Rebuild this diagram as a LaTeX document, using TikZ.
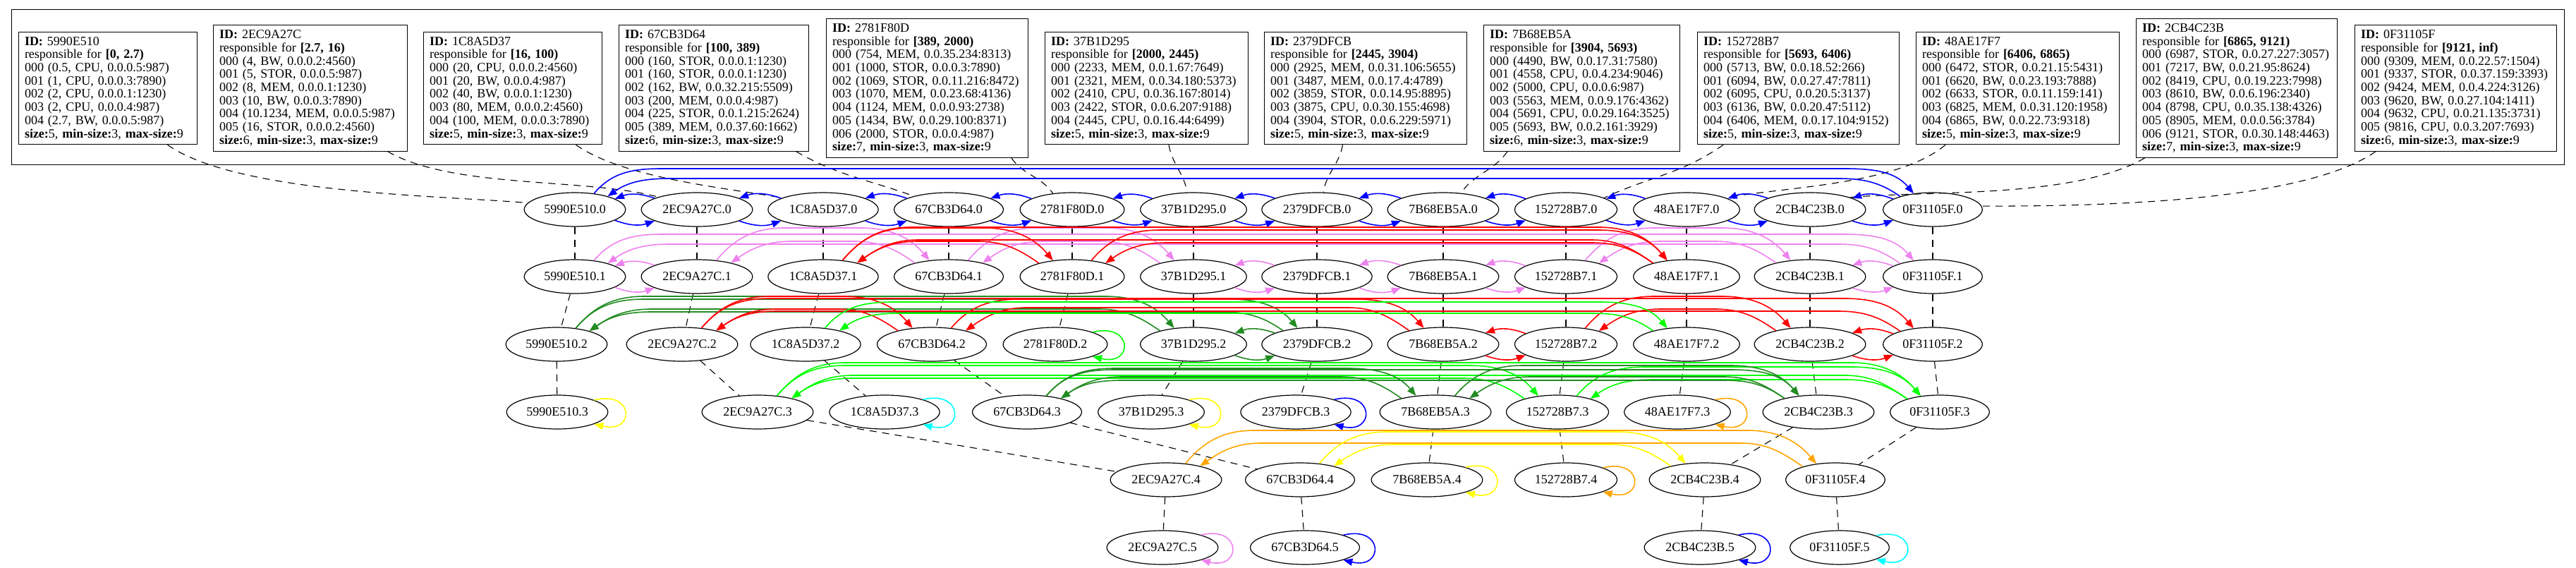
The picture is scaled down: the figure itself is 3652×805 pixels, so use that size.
\documentclass[tikz,border=0pt]{standalone}
\usepackage{fontspec}
\setmainfont{Liberation Serif}
\usetikzlibrary{shapes.geometric,arrows.meta,calc}

\definecolor{gvblue}{RGB}{0,0,255}
\definecolor{gvviolet}{RGB}{238,130,238}
\definecolor{gvred}{RGB}{255,0,0}
\definecolor{gvlime}{RGB}{0,255,0}
\definecolor{gvforest}{RGB}{34,139,34}
\definecolor{gvyellow}{RGB}{255,255,0}
\definecolor{gvorange}{RGB}{255,165,0}
\definecolor{gvcyan}{RGB}{0,255,255}

\tikzset{
  peer/.style={ellipse, draw, line width=1.2pt, minimum height=48pt, inner xsep=7pt, inner ysep=2pt, font=\fontsize{18}{20}\selectfont},
  entry/.style={rectangle, draw, line width=1pt, align=left, inner xsep=9pt, inner ysep=7pt, font=\fontsize{18}{18.7}\selectfont},
  link/.style={dash pattern=on 10pt off 8pt, line width=1.1pt},
  edge/.style={line width=1.6pt},
}

% two neighbours in one row
\newcommand{\nbrpair}[3]{%
  \draw[edge,#1,->] (#2.-15) to[bend right=20] (#3.-165);
  \draw[edge,#1,->] (#3.165) to[bend right=20] (#2.15);}
% two peers further apart in one row
\newcommand{\ringpair}[5]{%
  \draw[edge,#1,->] (#2.40) to[out=50,in=180] ($(#2)+(125,-#4)$) -- ($(#3)+(-125,-#4)$) to[out=0,in=130] (#3.140);
  \draw[edge,#1,<-] (#2.22) to[out=35,in=180] ($(#2)+(135,-#5)$) -- ($(#3)+(-135,-#5)$) to[out=0,in=145] (#3.158);}
% peer alone in its list
\newcommand{\selfloop}[2]{%
  \draw[edge,#1,->] (#2.18) .. controls +(58,-14) and +(58,14) .. (#2.-18);}

\begin{document}
\begin{tikzpicture}[x=1pt, y=-1pt, >={Triangle[length=13pt,width=10pt]}]
\useasboundingbox (0,0) rectangle (3652,805);

% frame round the tables
\draw[line width=1pt] (16,14) rectangle (3635,234);

% tables
\node[entry, text width=235pt] (t5990E510) at (152.5,125) {\textbf{ID:} 5990E510\\ responsible for \textbf{[0, 2.7)}\\ 000 (0.5, CPU, 0.0.0.5:987)\\ 001 (1, CPU, 0.0.0.3:7890)\\ 002 (2, CPU, 0.0.0.1:1230)\\ 003 (2, CPU, 0.0.0.4:987)\\ 004 (2.7, BW, 0.0.0.5:987)\\ \textbf{size:}5, \textbf{min-size:}3, \textbf{max-size:}9};
\node[entry, text width=257pt] (t2EC9A27C) at (439.5,125) {\textbf{ID:} 2EC9A27C\\ responsible for \textbf{[2.7, 16)}\\ 000 (4, BW, 0.0.0.2:4560)\\ 001 (5, STOR, 0.0.0.5:987)\\ 002 (8, MEM, 0.0.0.1:1230)\\ 003 (10, BW, 0.0.0.3:7890)\\ 004 (10.1234, MEM, 0.0.0.5:987)\\ 005 (16, STOR, 0.0.0.2:4560)\\ \textbf{size:}6, \textbf{min-size:}3, \textbf{max-size:}9};
\node[entry, text width=235pt] (t1C8A5D37) at (726.5,125) {\textbf{ID:} 1C8A5D37\\ responsible for \textbf{[16, 100)}\\ 000 (20, CPU, 0.0.0.2:4560)\\ 001 (20, BW, 0.0.0.4:987)\\ 002 (40, BW, 0.0.0.1:1230)\\ 003 (80, MEM, 0.0.0.2:4560)\\ 004 (100, MEM, 0.0.0.3:7890)\\ \textbf{size:}5, \textbf{min-size:}3, \textbf{max-size:}9};
\node[entry, text width=251pt] (t67CB3D64) at (1011.5,125) {\textbf{ID:} 67CB3D64\\ responsible for \textbf{[100, 389)}\\ 000 (160, STOR, 0.0.0.1:1230)\\ 001 (160, STOR, 0.0.0.1:1230)\\ 002 (162, BW, 0.0.32.215:5509)\\ 003 (200, MEM, 0.0.0.4:987)\\ 004 (225, STOR, 0.0.1.215:2624)\\ 005 (389, MEM, 0.0.37.60:1662)\\ \textbf{size:}6, \textbf{min-size:}3, \textbf{max-size:}9};
\node[entry, text width=268pt] (t2781F80D) at (1314,125) {\textbf{ID:} 2781F80D\\ responsible for \textbf{[389, 2000)}\\ 000 (754, MEM, 0.0.35.234:8313)\\ 001 (1000, STOR, 0.0.0.3:7890)\\ 002 (1069, STOR, 0.0.11.216:8472)\\ 003 (1070, MEM, 0.0.23.68:4136)\\ 004 (1124, MEM, 0.0.0.93:2738)\\ 005 (1434, BW, 0.0.29.100:8371)\\ 006 (2000, STOR, 0.0.0.4:987)\\ \textbf{size:}7, \textbf{min-size:}3, \textbf{max-size:}9};
\node[entry, text width=270pt] (t37B1D295) at (1625,125) {\textbf{ID:} 37B1D295\\ responsible for \textbf{[2000, 2445)}\\ 000 (2233, MEM, 0.0.1.67:7649)\\ 001 (2321, MEM, 0.0.34.180:5373)\\ 002 (2410, CPU, 0.0.36.167:8014)\\ 003 (2422, STOR, 0.0.6.207:9188)\\ 004 (2445, CPU, 0.0.16.44:6499)\\ \textbf{size:}5, \textbf{min-size:}3, \textbf{max-size:}9};
\node[entry, text width=269pt] (t2379DFCB) at (1935.5,125) {\textbf{ID:} 2379DFCB\\ responsible for \textbf{[2445, 3904)}\\ 000 (2925, MEM, 0.0.31.106:5655)\\ 001 (3487, MEM, 0.0.17.4:4789)\\ 002 (3859, STOR, 0.0.14.95:8895)\\ 003 (3875, CPU, 0.0.30.155:4698)\\ 004 (3904, STOR, 0.0.6.229:5971)\\ \textbf{size:}5, \textbf{min-size:}3, \textbf{max-size:}9};
\node[entry, text width=260pt] (t7B68EB5A) at (2242,125) {\textbf{ID:} 7B68EB5A\\ responsible for \textbf{[3904, 5693)}\\ 000 (4490, BW, 0.0.17.31:7580)\\ 001 (4558, CPU, 0.0.4.234:9046)\\ 002 (5000, CPU, 0.0.0.6:987)\\ 003 (5563, MEM, 0.0.9.176:4362)\\ 004 (5691, CPU, 0.0.29.164:3525)\\ 005 (5693, BW, 0.0.2.161:3929)\\ \textbf{size:}6, \textbf{min-size:}3, \textbf{max-size:}9};
\node[entry, text width=268pt] (t152728B7) at (2549,125) {\textbf{ID:} 152728B7\\ responsible for \textbf{[5693, 6406)}\\ 000 (5713, BW, 0.0.18.52:266)\\ 001 (6094, BW, 0.0.27.47:7811)\\ 002 (6095, CPU, 0.0.20.5:3137)\\ 003 (6136, BW, 0.0.20.47:5112)\\ 004 (6406, MEM, 0.0.17.104:9152)\\ \textbf{size:}5, \textbf{min-size:}3, \textbf{max-size:}9};
\node[entry, text width=270pt] (t48AE17F7) at (2860,125) {\textbf{ID:} 48AE17F7\\ responsible for \textbf{[6406, 6865)}\\ 000 (6472, STOR, 0.0.21.15:5431)\\ 001 (6620, BW, 0.0.23.193:7888)\\ 002 (6633, STOR, 0.0.11.159:141)\\ 003 (6825, MEM, 0.0.31.120:1958)\\ 004 (6865, BW, 0.0.22.73:9318)\\ \textbf{size:}5, \textbf{min-size:}3, \textbf{max-size:}9};
\node[entry, text width=267pt] (t2CB4C23B) at (3170.5,125) {\textbf{ID:} 2CB4C23B\\ responsible for \textbf{[6865, 9121)}\\ 000 (6987, STOR, 0.0.27.227:3057)\\ 001 (7217, BW, 0.0.21.95:8624)\\ 002 (8419, CPU, 0.0.19.223:7998)\\ 003 (8610, BW, 0.0.6.196:2340)\\ 004 (8798, CPU, 0.0.35.138:4326)\\ 005 (8905, MEM, 0.0.0.56:3784)\\ 006 (9121, STOR, 0.0.30.148:4463)\\ \textbf{size:}7, \textbf{min-size:}3, \textbf{max-size:}9};
\node[entry, text width=268pt] (t0F31105F) at (3481,125) {\textbf{ID:} 0F31105F\\ responsible for \textbf{[9121, inf)}\\ 000 (9309, MEM, 0.0.22.57:1504)\\ 001 (9337, STOR, 0.0.37.159:3393)\\ 002 (9424, MEM, 0.0.4.224:3126)\\ 003 (9620, BW, 0.0.27.104:1411)\\ 004 (9632, CPU, 0.0.21.135:3731)\\ 005 (9816, CPU, 0.0.3.207:7693)\\ \textbf{size:}6, \textbf{min-size:}3, \textbf{max-size:}9};

% peers, one row per level
\foreach \id/\x in {5990E510/815, 2EC9A27C/988, 1C8A5D37/1167, 67CB3D64/1345, 2781F80D/1520, 37B1D295/1692, 2379DFCB/1867, 7B68EB5A/2046, 152728B7/2220, 48AE17F7/2391, 2CB4C23B/2566, 0F31105F/2740}{
  \node[peer] (\id-0) at (\x,297) {\id.0};
  \node[peer] (\id-1) at (\x,392) {\id.1};
  \draw[link] (\id-0) -- (\id-1);
}
\foreach \id/\x in {5990E510/789, 2EC9A27C/967, 1C8A5D37/1142, 67CB3D64/1321, 2781F80D/1496, 37B1D295/1692, 2379DFCB/1867, 7B68EB5A/2046, 152728B7/2220, 48AE17F7/2391, 2CB4C23B/2566, 0F31105F/2740}{
  \node[peer] (\id-2) at (\x,488) {\id.2};
  \draw[link] (\id-1) -- (\id-2);
}
\foreach \id/\x in {5990E510/790, 2EC9A27C/1074, 1C8A5D37/1254, 67CB3D64/1456, 37B1D295/1632, 2379DFCB/1837, 7B68EB5A/2035, 152728B7/2208, 48AE17F7/2378, 2CB4C23B/2578, 0F31105F/2750}{
  \node[peer] (\id-3) at (\x,584) {\id.3};
  \draw[link] (\id-2) -- (\id-3);
}
\foreach \id/\x in {2EC9A27C/1653, 67CB3D64/1843, 7B68EB5A/2023, 152728B7/2220, 2CB4C23B/2417, 0F31105F/2602}{
  \node[peer] (\id-4) at (\x,680) {\id.4};
  \draw[link] (\id-3) -- (\id-4);
}
\foreach \id/\x in {2EC9A27C/1648, 67CB3D64/1850, 2CB4C23B/2410, 0F31105F/2608}{
  \node[peer] (\id-5) at (\x,776) {\id.5};
  \draw[link] (\id-4) -- (\id-5);
}

% tables to their level-0 peers
\draw[link] ([xshift=85pt]t5990E510.south) to[out=-35,in=175,looseness=0.6] (5990E510-0.172);
\draw[link] ([xshift=110pt]t2EC9A27C.south) to[out=-30,in=165,looseness=0.7] (2EC9A27C-0.162);
\draw[link] ([xshift=90pt]t1C8A5D37.south) to[out=-35,in=170,looseness=0.7] (1C8A5D37-0.164);
\draw[link] ([xshift=117pt]t67CB3D64.south) to[out=-30,in=160] (67CB3D64-0.159);
\draw[link] ([xshift=120pt]t2781F80D.south) to[out=-55,in=125] (2781F80D-0.140);
\draw[link] ([xshift=32pt]t37B1D295.south) to[out=-80,in=100] (37B1D295-0.110);
\draw[link] ([xshift=-32pt]t2379DFCB.south) to[out=-100,in=80] (2379DFCB-0.70);
\draw[link] ([xshift=-105pt]t7B68EB5A.south) to[out=-125,in=55] (7B68EB5A-0.43);
\draw[link] ([xshift=-106pt]t152728B7.south) to[out=-145,in=25] (152728B7-0.17);
\draw[link] ([xshift=-102pt]t48AE17F7.south) to[out=-140,in=10,looseness=0.7] (48AE17F7-0.17);
\draw[link] ([xshift=-130pt]t2CB4C23B.south) to[out=-150,in=5,looseness=0.7] (2CB4C23B-0.17);
\draw[link] ([xshift=-113pt]t0F31105F.south) to[out=-145,in=0,looseness=0.6] (0F31105F-0.4);

% level 0
\foreach \a/\b in {5990E510/2EC9A27C, 2EC9A27C/1C8A5D37, 1C8A5D37/67CB3D64, 67CB3D64/2781F80D, 2781F80D/37B1D295, 37B1D295/2379DFCB, 2379DFCB/7B68EB5A, 7B68EB5A/152728B7, 152728B7/48AE17F7, 48AE17F7/2CB4C23B, 2CB4C23B/0F31105F}{
  \nbrpair{gvblue}{\a-0}{\b-0}
}
\ringpair{gvblue}{5990E510-0}{0F31105F-0}{58}{44}

% level 1
\foreach \a/\b in {5990E510/2EC9A27C, 37B1D295/2379DFCB, 2379DFCB/7B68EB5A, 7B68EB5A/152728B7, 2CB4C23B/0F31105F}{
  \nbrpair{gvviolet}{\a-1}{\b-1}
}
\ringpair{gvviolet}{2EC9A27C-1}{67CB3D64-1}{69}{50}
\ringpair{gvviolet}{67CB3D64-1}{37B1D295-1}{69}{50}
\ringpair{gvviolet}{152728B7-1}{2CB4C23B-1}{69}{50}
\ringpair{gvviolet}{5990E510-1}{0F31105F-1}{60}{46}
\ringpair{gvred}{1C8A5D37-1}{2781F80D-1}{69}{50}
\ringpair{gvred}{2781F80D-1}{48AE17F7-1}{66}{48}
\ringpair{gvred}{1C8A5D37-1}{48AE17F7-1}{70}{52}

% level 2
\nbrpair{gvforest}{37B1D295-2}{2379DFCB-2}
\ringpair{gvforest}{5990E510-2}{37B1D295-2}{68}{50}
\ringpair{gvforest}{5990E510-2}{2379DFCB-2}{64}{46}
\ringpair{gvred}{2EC9A27C-2}{67CB3D64-2}{68}{50}
\ringpair{gvred}{67CB3D64-2}{7B68EB5A-2}{64}{52}
\nbrpair{gvred}{7B68EB5A-2}{152728B7-2}
\ringpair{gvred}{152728B7-2}{2CB4C23B-2}{68}{50}
\nbrpair{gvred}{2CB4C23B-2}{0F31105F-2}
\ringpair{gvred}{2EC9A27C-2}{0F31105F-2}{65}{47}
\ringpair{gvlime}{1C8A5D37-2}{48AE17F7-2}{60}{44}
\selfloop{gvlime}{2781F80D-2}

% level 3
\ringpair{gvlime}{2EC9A27C-3}{152728B7-3}{66}{48}
\ringpair{gvlime}{152728B7-3}{0F31105F-3}{64}{46}
\ringpair{gvlime}{2EC9A27C-3}{0F31105F-3}{70}{52}
\ringpair{gvforest}{67CB3D64-3}{7B68EB5A-3}{62}{50}
\ringpair{gvforest}{7B68EB5A-3}{2CB4C23B-3}{66}{50}
\ringpair{gvforest}{67CB3D64-3}{2CB4C23B-3}{60}{45}
\selfloop{gvyellow}{5990E510-3}
\selfloop{gvcyan}{1C8A5D37-3}
\selfloop{gvyellow}{37B1D295-3}
\selfloop{gvblue}{2379DFCB-3}
\selfloop{gvorange}{48AE17F7-3}

% level 4
\ringpair{gvorange}{2EC9A27C-4}{0F31105F-4}{70}{52}
\ringpair{gvyellow}{67CB3D64-4}{2CB4C23B-4}{68}{50}
\selfloop{gvyellow}{7B68EB5A-4}
\selfloop{gvorange}{152728B7-4}

% level 5
\selfloop{gvviolet}{2EC9A27C-5}
\selfloop{gvblue}{67CB3D64-5}
\selfloop{gvblue}{2CB4C23B-5}
\selfloop{gvcyan}{0F31105F-5}
\end{tikzpicture}
\end{document}
